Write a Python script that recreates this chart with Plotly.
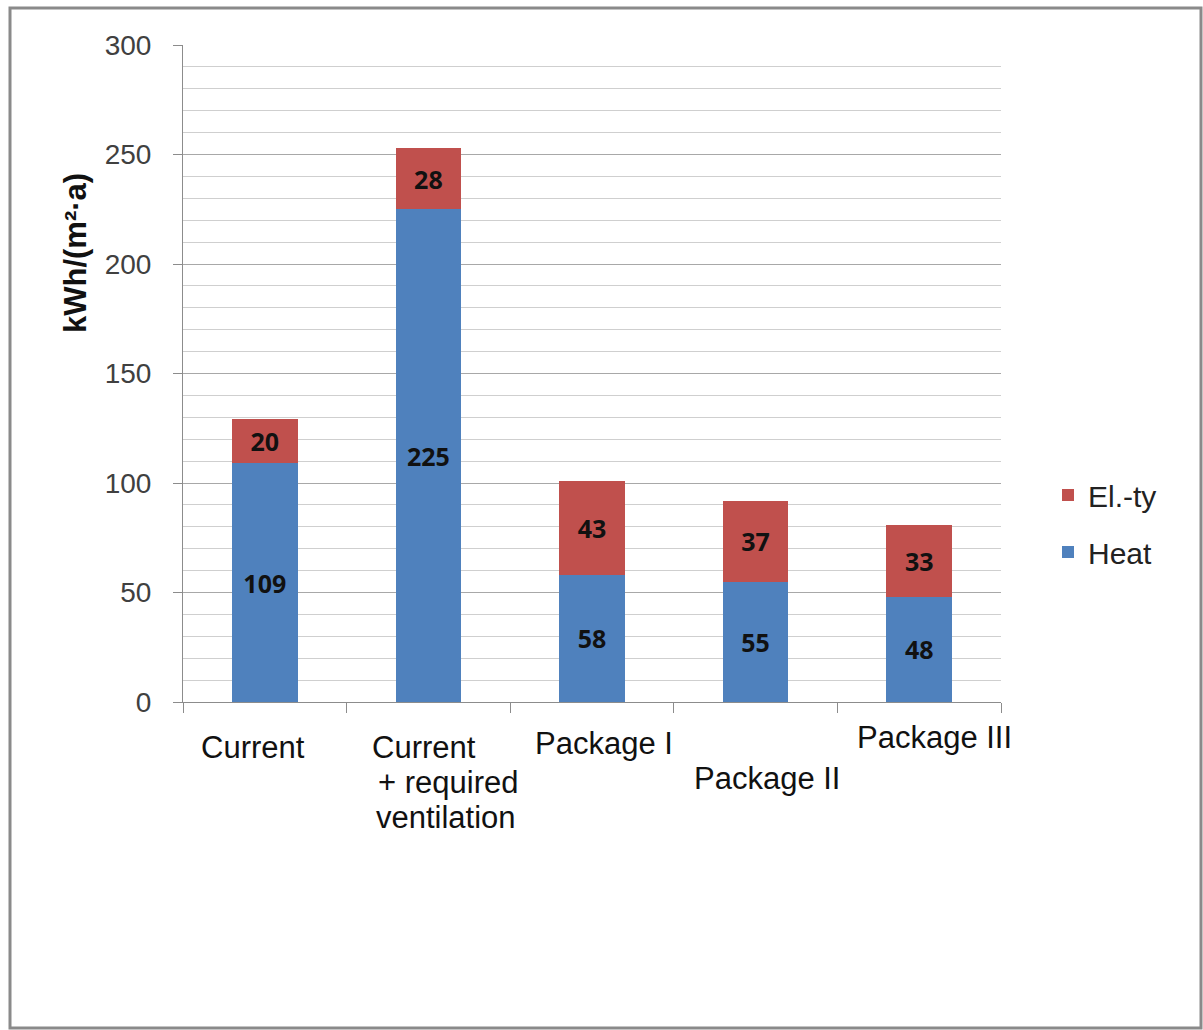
import plotly.graph_objects as go

categories = ["Current", "Current + required ventilation", "Package I", "Package II", "Package III"]
heat = [109, 225, 58, 55, 48]
electricity = [20, 28, 43, 37, 33]
series_names = ["Heat", "El.-ty"]
y_ticks = [0, 50, 100, 150, 200, 250, 300]

# layout geometry (pixels)
W, H = 1203, 1030
L, R, T, B = 183, 1001, 45, 702


def px(x):
    return (x - L) / (R - L)


def py(y):
    return (B - y) / (B - T)


BLUE = "#4F81BD"
RED = "#C0504D"
label_font = dict(family="Open Sans", size=25, color="#111111", weight="bold")

fig = go.Figure()
fig.add_trace(go.Bar(
    x=categories, y=heat, name=series_names[0], marker_color=BLUE,
    text=[str(v) for v in heat], textposition="inside", insidetextanchor="middle",
    textfont=label_font, constraintext="none", legendgroup="h", legendrank=2,
    marker_line_width=0,
))
fig.add_trace(go.Bar(
    x=categories, y=electricity, name=series_names[1], marker_color=RED,
    text=[str(v) for v in electricity], textposition="inside", insidetextanchor="middle",
    textfont=label_font, constraintext="none", legendgroup="e", legendrank=1,
    marker_line_width=0,
))

fig.update_layout(
    width=W, height=H,
    margin=dict(l=L, r=W - R, t=T, b=H - B, pad=0),
    paper_bgcolor="white", plot_bgcolor="white",
    barmode="stack", bargap=0.6,
    showlegend=True,
    legend=dict(
        x=px(1048), y=py(469), xanchor="left", yanchor="top",
        traceorder="grouped", tracegroupgap=15,
        font=dict(family="Liberation Sans", size=30, color="#222222"),
        bgcolor="rgba(0,0,0,0)",
    ),
    font=dict(family="Liberation Sans"),
)

fig.update_yaxes(
    range=[0, 300], tickvals=y_ticks, ticktext=[str(v) for v in y_ticks],
    showline=True, linecolor="#8c8c8c", linewidth=1,
    ticks="outside", ticklen=9, tickcolor="#8c8c8c",
    tickfont=dict(family="Liberation Sans", size=28, color="#404040"),
    ticklabelstandoff=16,
    showgrid=True, gridcolor="#a8a8a8", gridwidth=1,
    minor=dict(dtick=10, showgrid=True, gridcolor="#cfcfcf", gridwidth=1),
    zeroline=False, fixedrange=True,
)
fig.update_xaxes(
    showline=True, linecolor="#8c8c8c", linewidth=1,
    ticks="outside", ticklen=10, tickcolor="#8c8c8c", tickson="boundaries",
    showticklabels=False, showgrid=False, fixedrange=True,
)

# y-axis title
fig.add_annotation(
    text="<b>kWh/(m²·a)</b>", textangle=-90, xref="paper", yref="paper",
    x=px(75), y=py(253), xanchor="center", yanchor="middle", showarrow=False,
    font=dict(family="Liberation Sans", size=31, color="#111111"),
)

# category labels (staggered as in the original)
cat_font = dict(family="Liberation Sans", size=31, color="#111111")
cat_labels = [
    ("Current", 253, 747),
    ("Current", 424, 747),
    ("+ required", 448, 782),
    ("ventilation", 446, 817),
    ("Package I", 604, 743),
    ("Package II", 767, 778),
    ("Package III", 934, 737),
]
for txt, cx, cy in cat_labels:
    fig.add_annotation(
        text=txt, xref="paper", yref="paper", x=px(cx), y=py(cy),
        xanchor="center", yanchor="middle", showarrow=False, font=cat_font,
    )

# outer frame
fig.add_shape(
    type="rect", xref="paper", yref="paper",
    x0=px(10), x1=px(1201), y0=py(1028), y1=py(8),
    line=dict(color="#8a8a8a", width=3), fillcolor="rgba(0,0,0,0)", layer="below",
)

fig.write_html("out.html")
